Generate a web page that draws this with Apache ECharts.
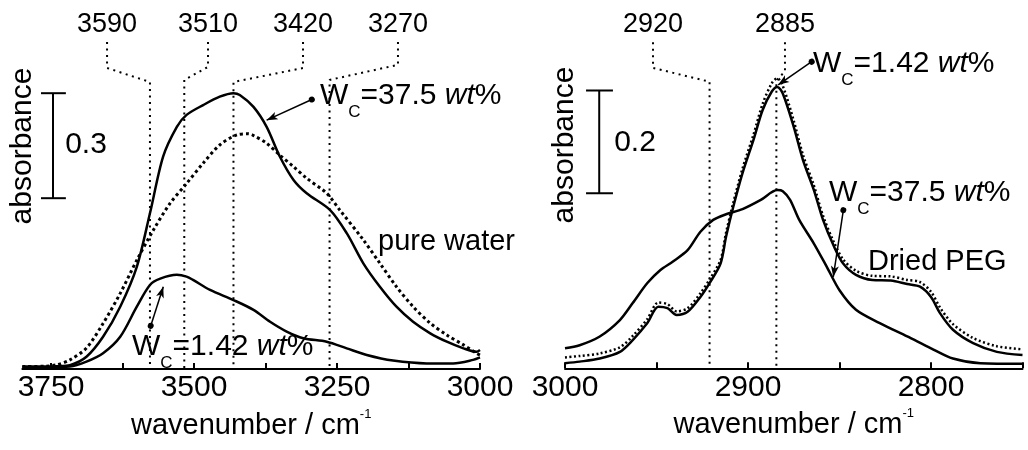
<!DOCTYPE html>
<html><head><meta charset="utf-8">
<script src="https://cdn.jsdelivr.net/npm/echarts@6/dist/echarts.min.js"></script>
<style>html,body{margin:0;padding:0;background:#fff}#c{width:1028px;height:450px}</style>
</head><body><div id="c"></div>
<script>
// ===== DATA =====
// Left panel: O-H stretching region
const wnA  = [3800,3760,3740,3717,3688,3659,3629,3600,3577,3554,3530,3513,3484,3455,3431,3420,3396,3373,3350,3326,3303,3262,3233,3204,3175,3146,3117,3087,3058,3029,3006,3000];
const absA = [0.007,0.007,0.008,0.011,0.035,0.092,0.178,0.292,0.445,0.607,0.692,0.726,0.754,0.778,0.788,0.783,0.749,0.692,0.607,0.540,0.502,0.454,0.388,0.302,0.235,0.178,0.135,0.102,0.078,0.059,0.049,0.054]; // Wc = 37.5 wt%
const wnB  = [3800,3760,3740,3717,3688,3659,3629,3600,3571,3542,3513,3484,3455,3425,3405,3396,3373,3350,3326,3303,3268,3245,3204,3175,3146,3117,3087,3058,3029,3006,3000];
const absB = [0.007,0.008,0.012,0.026,0.060,0.130,0.216,0.311,0.397,0.473,0.530,0.588,0.640,0.669,0.672,0.667,0.645,0.611,0.578,0.545,0.502,0.454,0.369,0.302,0.235,0.178,0.131,0.097,0.069,0.045,0.040]; // pure water
const wnC  = [3800,3760,3740,3717,3688,3659,3629,3600,3577,3559,3530,3513,3501,3472,3431,3396,3367,3338,3309,3268,3233,3198,3152,3093,3047,3012,3000];
const absC = [0.005,0.005,0.006,0.007,0.021,0.045,0.092,0.178,0.240,0.258,0.269,0.264,0.254,0.226,0.197,0.169,0.135,0.107,0.088,0.078,0.059,0.040,0.024,0.016,0.016,0.026,0.033]; // Wc = 1.42 wt%

// Right panel: C-H stretching region
const wnD  = [3000,2992,2981,2970,2963,2955,2949,2944,2939,2933,2926,2921,2915,2912,2908,2903,2897,2892,2887,2884,2881,2875,2870,2864,2859,2853,2848,2841,2832,2822,2813,2806,2800,2795,2788,2777,2764,2750];
const absD = [0.010,0.013,0.019,0.032,0.055,0.088,0.120,0.117,0.104,0.110,0.139,0.166,0.204,0.256,0.315,0.380,0.445,0.503,0.539,0.548,0.535,0.470,0.406,0.347,0.289,0.237,0.204,0.182,0.172,0.171,0.164,0.159,0.139,0.107,0.075,0.049,0.032,0.026]; // Wc = 1.42 wt%
const absP = [0.021,0.024,0.029,0.041,0.063,0.096,0.128,0.125,0.111,0.117,0.146,0.173,0.211,0.264,0.323,0.389,0.455,0.515,0.555,0.565,0.550,0.482,0.416,0.356,0.297,0.245,0.212,0.190,0.180,0.179,0.172,0.168,0.149,0.118,0.086,0.059,0.043,0.037]; // Dried PEG (same wavenumbers as wnD)
const wnE  = [3000,2992,2981,2970,2963,2955,2948,2941,2933,2926,2919,2912,2903,2893,2884,2881,2877,2872,2864,2857,2850,2841,2828,2813,2800,2788,2773,2750];
const absE = [0.039,0.045,0.062,0.094,0.127,0.166,0.191,0.208,0.230,0.266,0.289,0.300,0.310,0.328,0.347,0.345,0.328,0.289,0.243,0.198,0.152,0.114,0.088,0.062,0.039,0.019,0.010,0.009]; // Wc = 37.5 wt%

// Tick labels
const tickLabelsL = [3750,3500,3250,3000];
const tickMarksL  = [3750,3625,3500,3375,3250,3125,3000];
const tickLabelsR = [3000,2900,2800];
const tickMarksR  = [3000,2950,2900,2850,2800,2750];

// Band assignments (labels) and where their guide lines sit
const bandLabelsL = ['3590','3510','3420','3270'];
const bandLinesL  = [3577,3517,3431,3263];
const bandLabelsR = ['2920','2885'];
const bandLinesR  = [2921,2884.5];

// ===== LAYOUT (annotation anchors, in data coordinates) =====
const bandTextWnL = [3652,3475.5,3309.4,3143.4];
const bandTextWnR = [2951.9,2879.8];
const FONT = '"Liberation Sans", Arial, Helvetica, sans-serif';
const INK = '#000';

const series = [];
function zip(xs, ys){ return xs.map((x,i)=>[x, ys[i]]); }
function curve(idx, xs, ys, extra){
  series.push({type:'line', xAxisIndex:idx, yAxisIndex:idx, data:zip(xs,ys), symbol:'none',
    smooth:0.3, silent:true, z:3, lineStyle:Object.assign({color:INK, width:2.5}, extra||{})});
}
function poly(idx, pts, extra){
  series.push({type:'line', xAxisIndex:idx, yAxisIndex:idx, data:pts, symbol:'none',
    smooth:false, silent:true, z:2, lineStyle:Object.assign({color:INK, width:2}, extra||{})});
}
function arrows(idx, pairs){
  series.push({type:'line', xAxisIndex:idx, yAxisIndex:idx, data:[], silent:true, z:5,
    markLine:{silent:true, symbol:['circle','arrow'], symbolSize:[6,11], animation:false,
      label:{show:false}, emphasis:{disabled:true},
      lineStyle:{color:INK, width:1.5, type:'solid'},
      data: pairs.map(p=>[{coord:p[0]},{coord:p[1]}])}});
}
const textItems = [];
function texts(idx, items){ items.forEach(it=>textItems.push(Object.assign({idx:idx}, it))); }
const richWc = {
  n:{fontSize:30, lineHeight:50, fontFamily:FONT, fill:INK},
  s:{fontSize:17, lineHeight:17, verticalAlign:'bottom', fontFamily:FONT, fill:INK},
  i:{fontSize:30, lineHeight:50, fontStyle:'italic', fontFamily:FONT, fill:INK}
};
function wcText(val){ return '{n|W}{s|C}{n|=' + val + ' }{i|wt}{n|%}'; }

// ---- Left panel ----
curve(0, wnB, absB, {type:[3,3], width:3});
curve(0, wnA, absA);
curve(0, wnC, absC);
bandLinesL.forEach((x,i)=>{
  const lx = bandTextWnL[i];
  const k1 = [0.860,0.863,0.860,0.869][i];
  const k2 = [0.820,0.826,0.820,0.826][i];
  poly(0, [[lx,0.934],[lx,k1],[x,k2],[x,0]], {type:[2,4.5]});
});
poly(0, [[3746.5,0.488],[3746.5,0.788]], {width:2});
poly(0, [[3767.5,0.788],[3724,0.788]], {width:2});
poly(0, [[3767.5,0.488],[3724,0.488]], {width:2});
arrows(0, [
  [[3294,0.770],[3373,0.711]],
  [[3575.7,0.123],[3553.7,0.235]]
]);
texts(0, [
  ...bandLabelsL.map((t,i)=>({w:bandTextWnL[i], v:0.983, t:t, s:{align:'center', fontSize:27}})),
  {w:3279.7, v:0.780, t:wcText('37.5'), s:{rich:richWc}},
  {w:3178.3, v:0.362, t:'pure water', s:{fontSize:29}},
  {w:3608.9, v:0.064, t:wcText('1.42'), s:{rich:richWc}},
  {w:3688.8, v:0.640, t:'0.3', s:{align:'center'}},
  {w:3799, v:0.637, t:'absorbance', s:{align:'center'}, rot:true}
]);

// ---- Right panel ----
curve(1, wnE, absE);
curve(1, wnD, absP, {type:[2,2.5], width:2.5});
curve(1, wnD, absD);
bandLinesR.forEach((x,i)=>{
  const lx = bandTextWnR[i];
  const k1 = [0.585,0.578][i];
  const k2 = [0.558,0.561][i];
  poly(1, [[lx,0.635],[lx,k1],[x,k2],[x,0]], {type:[2,4.5]});
});
poly(1, [[2981.3,0.341],[2981.3,0.541]], {width:2});
poly(1, [[2988.5,0.541],[2973.8,0.541]], {width:2});
poly(1, [[2988.5,0.341],[2973.8,0.341]], {width:2});
arrows(1, [
  [[2865.2,0.597],[2883.5,0.552]],
  [[2847.9,0.308],[2853.4,0.178]]
]);
texts(1, [
  ...bandLabelsR.map((t,i)=>({w:bandTextWnR[i], v:0.6685, t:t, s:{align:'center', fontSize:27}})),
  {w:2864.3, v:0.592, t:wcText('1.42'), s:{rich:richWc}},
  {w:2856, v:0.342, t:wcText('37.5'), s:{rich:richWc}},
  {w:2834.3, v:0.2076, t:'Dried PEG', s:{fontSize:29}},
  {w:2961.7, v:0.4388, t:'0.2', s:{align:'center'}},
  {w:3000, v:0.435, t:'absorbance', s:{align:'center'}, rot:true}
]);

function xAxisCfg(idx, min, max, labels, ticks){
  return {type:'value', gridIndex:idx, min:min, max:max, inverse:true,
    name:'{a|wavenumber / cm}{s|-1}', nameLocation:'middle', nameGap:30,
    nameTextStyle:{rich:{
      a:{fontSize:29, lineHeight:36, fontFamily:FONT, color:INK},
      s:{fontSize:13, lineHeight:13, verticalAlign:'top', fontFamily:FONT, color:INK}}},
    axisLine:{show:true, onZero:false, lineStyle:{color:INK, width:2}},
    axisTick:{show:true, inside:true, length:6, customValues:ticks, lineStyle:{color:INK, width:2}},
    axisLabel:{show:true, customValues:labels, margin:4, fontSize:30, color:INK, fontFamily:FONT,
      formatter:function(v){ return String(v); }},
    splitLine:{show:false}, minorTick:{show:false}};
}

const chart = echarts.init(document.getElementById('c'), null, {renderer:'canvas'});
chart.setOption({
  animation:false,
  backgroundColor:'#fff',
  grid:[
    {left:22.4, right:548, top:19, bottom:81},
    {left:565, right:5.5, top:8.85, bottom:81.7}
  ],
  xAxis:[
    xAxisCfg(0, 3000, 3800, tickLabelsL, tickMarksL),
    xAxisCfg(1, 2750, 3000, tickLabelsR, tickMarksR)
  ],
  yAxis:[
    {type:'value', gridIndex:0, min:0, max:1, show:false},
    {type:'value', gridIndex:1, min:0, max:0.7, show:false}
  ],
  series:series
});

// Annotation texts: positioned through the axes' scales (convertToPixel), snapped to whole pixels
const graphics = textItems.map(it=>{
  const p = chart.convertToPixel({gridIndex:it.idx}, [it.w, it.v]);
  return {type:'text', x:Math.round(p[0]), y:Math.round(p[1]), rotation: it.rot ? Math.PI/2 : 0,
    silent:true, z:10,
    style:Object.assign({text:it.t, fill:INK, fontFamily:FONT, fontSize:30, align:'left', verticalAlign:'middle'}, it.s)};
});
chart.setOption({graphic:{elements:graphics}});
</script></body></html>
